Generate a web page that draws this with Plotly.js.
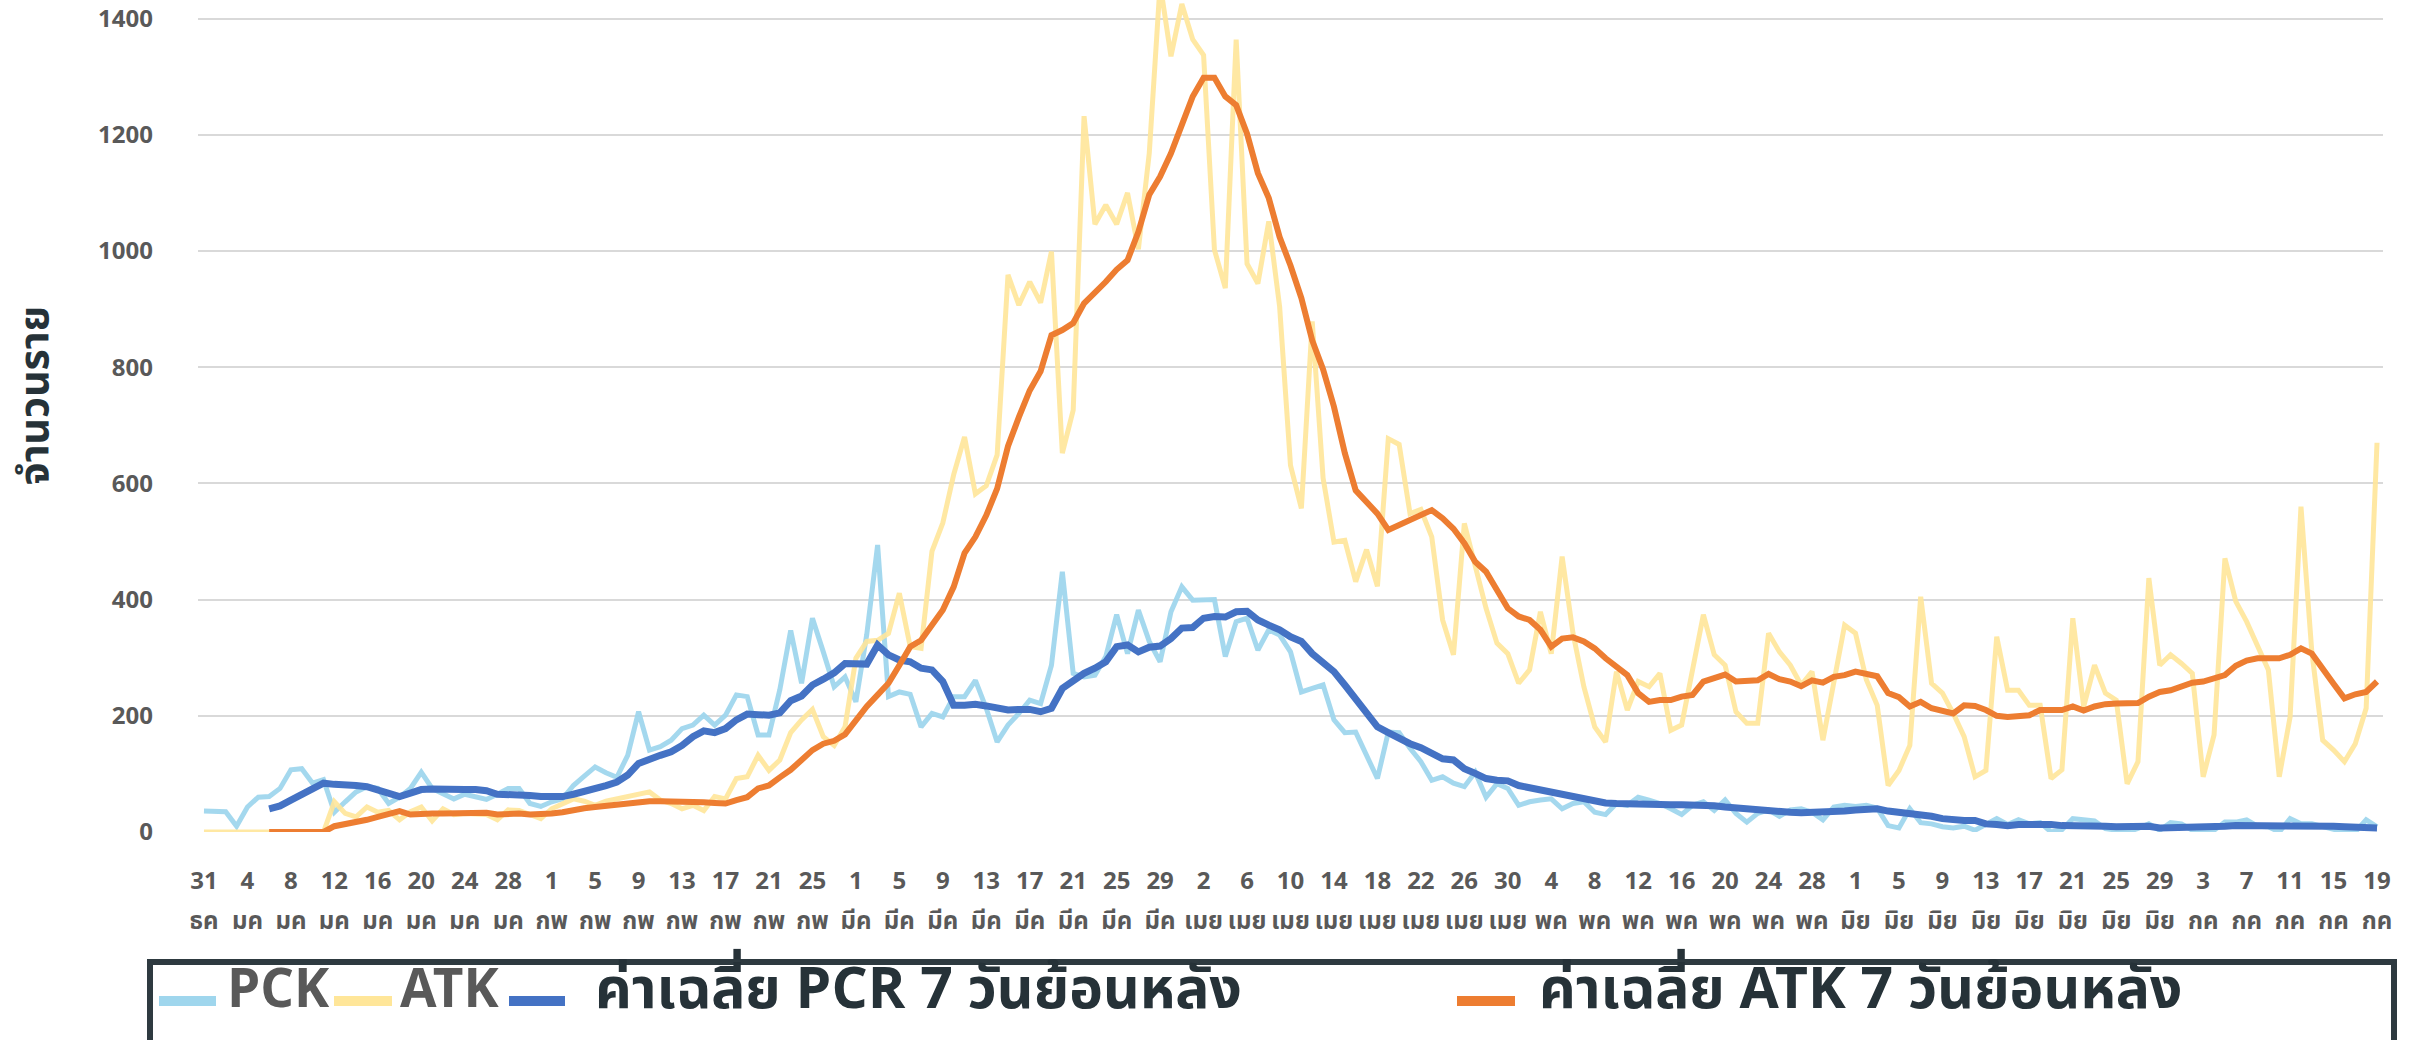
<!DOCTYPE html>
<html>
<head>
<meta charset="utf-8">
<script src="https://cdn.plot.ly/plotly-3.0.1.min.js"></script>
<style>html,body{margin:0;padding:0;background:#fff;overflow:hidden;}#chart{width:2417px;height:1040px;}</style>
</head>
<body>
<div id="chart"></div>
<script>
// ---- Data (one value per day, 31 Dec .. 19 Jul) ----
const pck = [
 36,36,35,10,43,60,61,75,107,109,
 84,90,34,52,69,78,75,49,60,75,
 103,75,66,57,65,61,56,65,75,75,
 49,44,52,57,80,96,112,102,94,132,
 207,141,147,158,178,184,201,184,201,236,
 233,167,167,245,347,256,368,310,250,267,
 224,340,494,233,241,237,181,204,198,233,
 233,261,213,155,184,204,227,221,287,448,
 273,267,270,302,374,307,382,328,293,379,
 422,399,399,400,302,362,368,313,348,339,
 310,241,247,253,193,171,172,132,92,172,
 171,144,121,89,95,84,78,103,60,83,
 75,46,52,55,57,40,49,52,34,30,
 49,46,60,55,49,40,30,46,52,37,
 55,32,17,32,38,27,38,40,34,21,
 43,46,44,46,41,11,7,40,16,14,
 9,7,10,3,14,23,13,21,14,16,
 0,4,23,20,19,6,4,0,6,14,
 3,16,14,3,0,3,17,17,21,10,
 9,0,23,14,14,9,3,0,0,21,
 9
];
const atk = [
 0,0,0,0,0,0,0,0,0,0,
 0,0,52,32,26,43,34,37,21,35,
 43,19,40,30,32,32,30,21,38,37,
 29,23,40,49,57,53,46,53,57,60,
 63,69,55,49,40,46,37,61,57,92,
 95,132,106,124,171,193,211,164,149,181,
 299,328,330,342,411,319,316,483,532,615,
 680,582,596,649,959,907,947,911,999,652,
 726,1232,1046,1079,1046,1100,1003,1168,1460,1335,
 1425,1364,1337,1002,936,1364,978,944,1051,904,
 631,557,879,609,499,502,431,486,423,677,
 667,548,555,508,365,305,531,455,385,325,
 307,256,279,379,307,474,342,250,181,155,
 276,210,259,250,273,175,184,279,374,305,
 287,207,187,187,342,310,287,253,276,158,
 256,356,342,262,218,80,106,149,405,256,
 239,204,164,95,106,336,244,244,218,218,
 92,107,368,216,287,239,227,83,121,437,
 287,305,290,273,95,167,471,397,362,319,
 279,95,198,560,310,158,141,121,152,213,
 670
];
const pcrAvg7 = [
 null,null,null,null,null,null,40,45,55,65,
 76,84,82,82,80,78,72,66,61,67,
 73,74,73,71,73,73,71,65,65,65,
 63,61,60,61,65,69,75,80,86,98,
 118,126,132,138,149,164,174,171,178,193,
 203,202,201,205,226,234,253,263,274,290,
 291,289,322,305,296,293,282,279,259,218,
 218,220,217,213,210,211,211,207,213,247,
 261,273,282,293,319,322,310,318,320,333,
 351,352,368,371,370,379,380,365,356,348,
 336,328,307,290,276,253,230,207,181,171,
 161,152,145,134,126,124,109,101,92,89,
 88,80,76,73,67,63,59,56,53,50,
 49,48,50,49,48,47,47,47,48,45,
 43,41,40,39,37,34,34,33,33,33,
 34,36,38,40,40,36,34,34,30,27,
 23,20,20,20,14,13,11,13,14,14,
 13,11,11,13,11,10,9,10,10,10,
 7,7,9,9,9,9,10,11,11,11,
 11,11,13,13,12,11,10,9,9,9,
 7
];
const atkAvg7 = [
 null,null,null,null,null,null,0,0,0,0,
 0,0,10,13,16,21,26,30,36,30,
 32,32,32,32,32,32,33,30,32,32,
 30,30,32,34,38,41,43,45,48,51,
 52,53,53,53,53,52,51,50,49,55,
 60,75,80,94,107,124,141,152,157,168,
 193,216,236,256,287,319,330,355,382,422,
 480,508,545,591,664,714,760,793,855,864,
 876,910,928,947,968,984,1033,1097,1128,1168,
 1217,1266,1298,1298,1266,1251,1202,1134,1091,1024,
 975,919,846,796,732,652,588,566,548,520,
 529,536,545,554,540,522,497,465,448,417,
 385,371,365,348,319,333,335,328,316,299,
 284,270,239,224,227,227,233,236,259,266,
 271,259,261,261,272,263,259,251,261,257,
 267,270,276,273,268,239,232,216,224,213,
 209,204,218,217,210,200,198,199,201,210,
 210,210,216,209,216,220,221,221,222,233,
 241,244,250,257,259,264,270,286,295,299,
 299,299,305,316,307,279,255,230,237,241,
 259
];
// tick labels (every 4th day)
const tickDay = [31,4,8,12,16,20,24,28,1,5,9,13,17,21,25,1,5,9,13,17,21,25,29,2,6,10,14,18,22,26,30,4,8,12,16,20,24,28,1,5,9,13,17,21,25,29,3,7,11,15,19];
const tickMonth = ['ธค','มค','มค','มค','มค','มค','มค','มค','กพ','กพ','กพ','กพ','กพ','กพ','กพ','มีค','มีค','มีค','มีค','มีค','มีค','มีค','มีค','เมย','เมย','เมย','เมย','เมย','เมย','เมย','เมย','พค','พค','พค','พค','พค','พค','พค','มิย','มิย','มิย','มิย','มิย','มิย','มิย','มิย','กค','กค','กค','กค','กค'];
const yTicks = [0,200,400,600,800,1000,1200,1400];
const seriesNames = ['PCK','ATK','ค่าเฉลี่ย PCR 7 วันย้อนหลัง','ค่าเฉลี่ย ATK 7 วันย้อนหลัง'];
const yTitle = 'จำนวนราย';

// ---- styles ----
const colors = ['#9fd6ed', '#ffe699', '#4472c4', '#ed7d31'];
const widths = [5, 5, 7, 6];
const FONT = '"Noto Sans Thai", "Noto Sans", "Liberation Sans", Arial, sans-serif';
const W = 2417, H = 1040, ML = 198, MR = 34, MT = 0, MB = 208;
const PW = W - ML - MR, PH = H - MT - MB;
const px2x = p => (p - ML) / PW;          // pixel -> paper x
const py2y = p => (MT + PH - p) / PH;     // pixel -> paper y

// ---- build ----
const days = pck.map((_, i) => i);
const tickIdx = tickDay.map((_, i) => i * 4);
const seriesData = [pck, atk, pcrAvg7, atkAvg7];

const traces = seriesData.map((arr, k) => ({
  x: days, y: arr, type:'scatter', mode:'lines', name: seriesNames[k],
  line:{color: colors[k], width: widths[k]}, opacity: k === 1 ? 0.9 : (k === 0 ? 0.95 : 1),
  showlegend:false, hoverinfo:'skip'
}));
traces.push({x:[null], y:[null], xaxis:'x2', type:'scatter', mode:'lines', showlegend:false, hoverinfo:'skip'});

// legend (drawn as shapes + text annotations inside a framed box)
const legLineX = [[159,216],[334,392],[509,565],[1457,1515]];
const legTextX = [225, 398, 593, 1537];
const legTextSize = [53, 53, 57, 57];
const legTextColor = ['#595959', '#595959', '#263238', '#263238'];
const legLineY = 1001;
const legTextY = 991;

const shapes = [{type:'rect', xref:'paper', yref:'paper', x0:px2x(150), x1:px2x(2394), y0:py2y(962), y1:py2y(1120),
  line:{color:'#2e3a40', width:6}, fillcolor:'rgba(0,0,0,0)', layer:'above'}];
const annotations = [];
for (let k = 0; k < 4; k++) {
  shapes.push({type:'line', xref:'paper', yref:'paper', x0:px2x(legLineX[k][0]), x1:px2x(legLineX[k][1]),
    y0:py2y(legLineY), y1:py2y(legLineY), line:{color: colors[k], width:10}, layer:'above'});
  annotations.push({xref:'paper', yref:'paper', x:px2x(legTextX[k]), y:py2y(legTextY), xanchor:'left', yanchor:'middle',
    text: seriesNames[k], showarrow:false,
    font:{family: FONT, size: legTextSize[k], weight:'bold', color: legTextColor[k]}});
}

const xr = [-0.55, 200.55];
const tf = {size:24, weight:'bold', color:'#595959', family: FONT};
const layout = {
  width: W, height: H,
  margin: {l:ML, r:MR, t:MT, b:MB},
  paper_bgcolor:'#ffffff', plot_bgcolor:'#ffffff',
  font:{family: FONT, color:'#595959'},
  showlegend:false,
  xaxis:{range:xr, tickmode:'array', tickvals: tickIdx, ticktext: tickDay.map(String), tickfont: tf,
    showgrid:false, zeroline:false, showline:false, ticks:'', ticklabelstandoff:32, fixedrange:true},
  xaxis2:{range:xr, overlaying:'x', anchor:'y', side:'bottom', tickmode:'array', tickvals: tickIdx, ticktext: tickMonth, tickfont: tf,
    showgrid:false, zeroline:false, showline:false, ticks:'', ticklabelstandoff:72, fixedrange:true},
  yaxis:{range:[0,1432], tickmode:'array', tickvals: yTicks, ticktext: yTicks.map(String), tickfont: tf,
    gridcolor:'#d9d9d9', gridwidth:2, zeroline:false, showline:false, ticks:'', ticklabelstandoff:44,
    title:{text:'\u200b\u2003' + yTitle, font:{size:41, weight:'bold', color:'#263238', family: FONT}, standoff:36}, fixedrange:true},
  shapes: shapes,
  annotations: annotations
};

Plotly.newPlot('chart', traces, layout, {staticPlot:true, displayModeBar:false});
</script>
</body>
</html>
